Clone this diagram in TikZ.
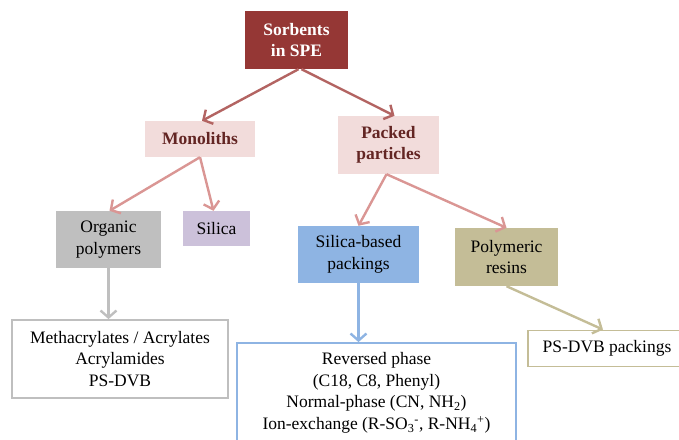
\documentclass[tikz,border=0pt]{standalone}
\usepackage{fontspec}
\setmainfont{Liberation Serif}
\usetikzlibrary{arrows.meta,calc}
\definecolor{darkred}{HTML}{953735}
\definecolor{pinkfill}{HTML}{F2DCDB}
\definecolor{pinktext}{HTML}{632523}
\definecolor{arrdark}{HTML}{B36462}
\definecolor{arrpink}{HTML}{DA9694}
\definecolor{grayfill}{HTML}{BFBFBF}
\definecolor{lavfill}{HTML}{CCC1DA}
\definecolor{bluefill}{HTML}{8EB4E3}
\definecolor{tanfill}{HTML}{C4BD97}
\tikzset{
  box/.style={inner sep=0pt, align=center, font=\fontsize{17.5}{21.5}\selectfont},
  lvl1/.style={box, fill=pinkfill, text=pinktext, font=\fontsize{17.5}{21.5}\selectfont\bfseries},
  arr/.style={line width=2.4pt, -{Straight Barb[length=7pt,width=16pt,line width=2.4pt]}},
}
\begin{document}
\begin{tikzpicture}[x=1pt,y=-1pt]
\useasboundingbox (0,0) rectangle (679,439);
\clip (0,0) rectangle (679,439);
\node[box, fill=darkred, text=white, font=\fontsize{17.5}{21.5}\selectfont\bfseries, minimum width=103, minimum height=58] (sorb) at (296.5,40) {Sorbents\\in SPE};
\node[lvl1, minimum width=110, minimum height=36] (mono) at (200,139) {Monoliths};
\node[lvl1, minimum width=101, minimum height=58] (pack) at (388.5,145) {Packed\\particles};
\node[box, fill=grayfill, minimum width=105, minimum height=57] (org) at (108.5,239.5) {Organic\\polymers};
\node[box, fill=lavfill, minimum width=67, minimum height=35] (sil) at (216.5,228.5) {Silica};
\node[box, fill=bluefill, minimum width=121, minimum height=57] (silb) at (358.5,254.5) {Silica-based\\packings};
\node[box, fill=tanfill, minimum width=103, minimum height=58] (poly) at (506.5,257) {Polymeric\\resins};
\node[box, draw=grayfill, line width=1.8pt, minimum width=216, minimum height=78] (meth) at (120,359) {Methacrylates / Acrylates\\Acrylamides\\PS-DVB};
\node[box, draw=bluefill, line width=1.8pt, minimum width=279, minimum height=100] (rev) at (376.5,393) {Reversed phase\\(C18, C8, Phenyl)\\Normal-phase (CN, NH\textsubscript{2})\\Ion-exchange (R-SO\textsubscript{3}\textsuperscript{-}, R-NH\textsubscript{4}\textsuperscript{+})};
\node[box, draw=tanfill, line width=1.8pt, minimum width=158, minimum height=36] (psdvb) at (607,348.5) {PS-DVB packings};
\draw[arr, arrdark] ([xshift=2]sorb.south) -- ([xshift=2]mono.north);
\draw[arr, arrdark] ([xshift=5]sorb.south) -- ([xshift=6]pack.north);
\draw[arr, arrpink] (mono.south) -- ([xshift=1]org.north);
\draw[arr, arrpink] (mono.south) -- ([xshift=-3]sil.north);
\draw[arr, arrpink] ([xshift=-2]pack.south) -- (silb.north);
\draw[arr, arrpink] ([xshift=-2]pack.south) -- (poly.north);
\draw[arr, grayfill] (org.south) -- (org.south |- meth.north);
\draw[arr, bluefill] (silb.south) -- (silb.south |- rev.north);
\draw[arr, tanfill] (poly.south) -- ([xshift=-4]psdvb.north);
\end{tikzpicture}
\end{document}
